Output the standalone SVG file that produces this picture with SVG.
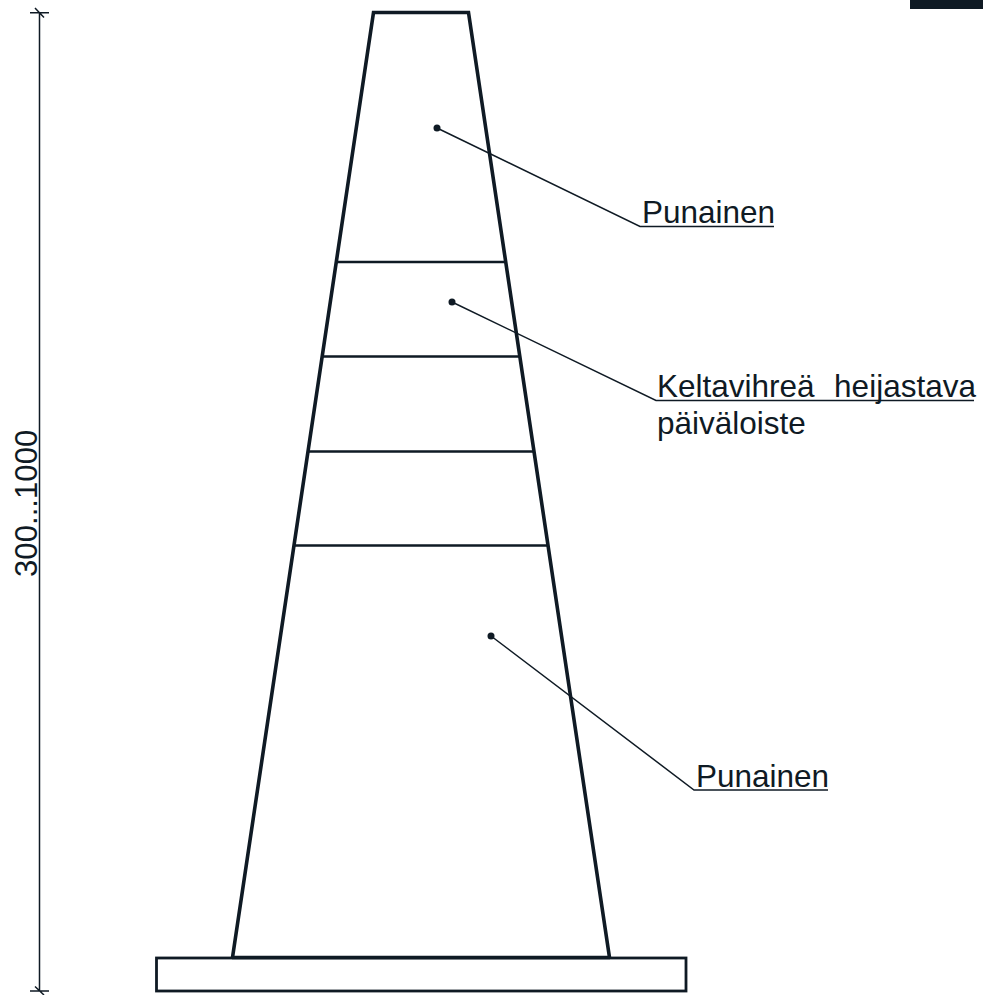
<svg xmlns="http://www.w3.org/2000/svg" width="983" height="995" viewBox="0 0 983 995">
<style>
.h{fill:none;stroke:#0f1a24;stroke-width:3.6;stroke-linejoin:miter}
.b{fill:none;stroke:#0f1a24;stroke-width:2.7}
.t{fill:none;stroke:#0f1a24;stroke-width:1.5}
.d{fill:#0f1a24}
text{font-family:"Liberation Sans",Arial,sans-serif;font-size:31.500px;fill:#0f1a24}
</style>
<rect width="983" height="995" fill="#fff"/>
<rect id="corner" x="910" y="0" width="73" height="9" fill="#0f1a24"/>
<g id="cone">
<path class="h" d="M232.500 957.500 L373.500 12.500 H468.500 L609.500 957.500"/>
<path class="b" d="M336 262H504.500M322 356.500H519M308 451.500H533.500M294.500 545.500H547.500"/>
</g>
<g id="base"><rect class="h" x="156.500" y="958" width="529.500" height="33" style="stroke-width:2.800"/><path class="h" d="M232 957.500H610"/></g>
<g id="dimension">
<path class="t" d="M39.500 13V991M30 12.700H49M35 8L44 17.500M30 991H49M35 986.500L44 995"/>
<text transform="translate(37 577) rotate(-90)" style="font-size:31.200px">300...1000</text>
</g>
<g id="connectors">
<path class="t" d="M437 128L640 226.500H774"/>
<path class="t" d="M452 302L656 400.500H974"/>
<path class="t" d="M491 636L694 790H828"/>
<circle class="d" cx="437" cy="128" r="3.500"/>
<circle class="d" cx="452" cy="302" r="3.500"/>
<circle class="d" cx="491" cy="636" r="3.500"/>
</g>
<g id="label-punainen-top"><text x="642" y="223">Punainen</text></g>
<g id="label-keltavihrea"><text x="657" y="397" xml:space="preserve" word-spacing="1">Keltavihreä  heijastava</text><text x="657" y="434">päiväloiste</text></g>
<g id="label-punainen-bottom"><text x="696" y="787">Punainen</text></g>
</svg>
